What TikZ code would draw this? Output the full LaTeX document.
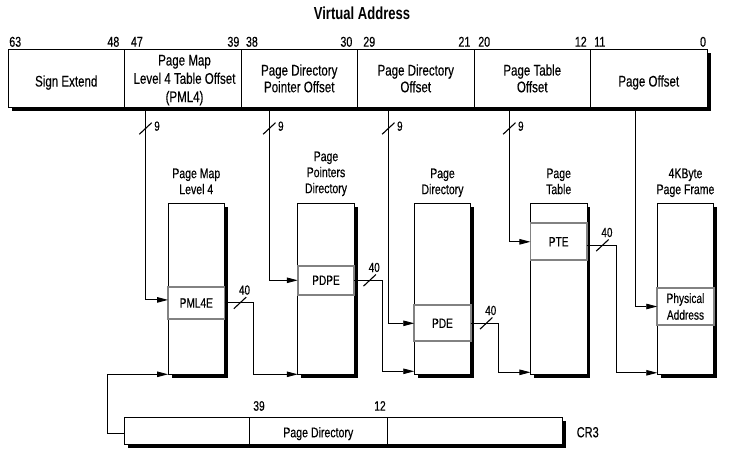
\documentclass[tikz,border=0pt]{standalone}
\usepackage{fontspec}
\setmainfont{Liberation Sans}[FakeStretch=0.75,UprightFeatures={FakeBold=0.35}]
\usetikzlibrary{arrows.meta,shadows}
\definecolor{entrygray}{RGB}{130,130,130}
\newcommand\fsz[2]{\fontsize{#1}{#2}\selectfont}
\begin{document}
\begin{tikzpicture}[x=1pt,y=-1pt,
  every node/.style={inner sep=0pt,outer sep=0pt},
  shadowbox/.style={draw=black,line width=0.9pt,fill=white,
     drop shadow={shadow xshift=3.5pt,shadow yshift=-3.5pt,fill=black,opacity=1}},
  field/.style={shadowbox,minimum width=116.5pt,minimum height=57.5pt},
  tablebox/.style={shadowbox,minimum width=56.5pt,minimum height=171pt},
  entry/.style={draw=entrygray,line width=1.8pt,fill=white,minimum width=56.5pt,align=center,font=\fsz{13.5}{16.7}},
  ftext/.style={align=center,anchor=north,font=\fsz{15.4}{16.7}},
  ttext/.style={align=center,anchor=north,font=\fsz{14}{16}},
  bitnum/.style={font=\fsz{14.2}{15}},
  widthlabel/.style={font=\fsz{13.2}{14},anchor=base west},
  conn/.style={line width=0.9pt},
  arr/.style={conn,-{Triangle[length=11pt,width=5.5pt]}},
  slashmark/.style={line width=1.1pt},
]
\useasboundingbox (0,0) rectangle (756,466);
\fill[white] (0,0) rectangle (756,466);

% title
\node[font=\bfseries\fsz{17.4}{18}] (title) at (362,13) {Virtual Address};

% virtual address fields
\node[field] (f1) at (66.25,78.25) {};
\node[field] (f2) at (182.75,78.25) {};
\node[field] (f3) at (299.25,78.25) {};
\node[field] (f4) at (415.75,78.25) {};
\node[field] (f5) at (532.25,78.25) {};
\node[field] (f6) at (648.75,78.25) {};

\node[ftext] (t1) at (66.25,75.4) {Sign Extend};
\node[ftext,font=\fsz{15.4}{18.3}] (t2) at (184.5,54.9) {Page Map\\Level 4 Table Offset\\(PML4)};
\node[ftext] (t3) at (299.25,64.4) {Page Directory\\Pointer Offset};
\node[ftext] (t4) at (415.75,64.4) {Page Directory\\Offset};
\node[ftext] (t5) at (532.25,64.4) {Page Table\\Offset};
\node[ftext] (t6) at (648.75,75.4) {Page Offset};

% bit numbers
\node[bitnum,anchor=base west] (b63) at (9.3,46.7) {63};
\node[bitnum,anchor=base east] (b48) at (119.3,46.7) {48};
\node[bitnum,anchor=base west] (b47) at (131,46.7) {47};
\node[bitnum,anchor=base east] (b39) at (239.3,46.7) {39};
\node[bitnum,anchor=base west] (b38) at (246,46.7) {38};
\node[bitnum,anchor=base east] (b30) at (352.3,46.7) {30};
\node[bitnum,anchor=base west] (b29) at (363.3,46.7) {29};
\node[bitnum,anchor=base east] (b21) at (470.3,46.7) {21};
\node[bitnum,anchor=base west] (b20) at (478.3,46.7) {20};
\node[bitnum,anchor=base east] (b12) at (586.7,46.7) {12};
\node[bitnum,anchor=base west] (b11) at (594.3,46.7) {11};
\node[bitnum,anchor=base east] (b0) at (706,46.7) {0};

% tables
\node[tablebox] (pml4) at (196.3,288.8) {};
\node[tablebox] (pdp) at (326,288.8) {};
\node[tablebox] (pd) at (442.5,288.8) {};
\node[tablebox] (pt) at (558.7,288.8) {};
\node[tablebox] (frame) at (685.5,288.8) {};

\node[entry,minimum height=32.3pt] (pml4e) at (196.3,302.9) {PML4E};
\node[entry,minimum height=29.3pt] (pdpe) at (326,280.3) {PDPE};
\node[entry,minimum height=36pt] (pde) at (442.5,323.3) {PDE};
\node[entry,minimum height=37pt] (pte) at (558.7,241.8) {PTE};
\node[entry,minimum height=36.4pt] (phys) at (685.5,306.5) {Physical\\Address};

\node[ttext] (h1) at (196.3,168.5) {Page Map\\Level 4};
\node[ttext] (h2) at (326,151.5) {Page\\Pointers\\Directory};
\node[ttext] (h3) at (442.5,168.5) {Page\\Directory};
\node[ttext] (h4) at (558.7,168.5) {Page\\Table};
\node[ttext] (h5) at (685.5,168.5) {4KByte\\Page Frame};

% CR3
\node[shadowbox,minimum width=125pt,minimum height=27.3pt] (c1) at (186.8,430.65) {};
\node[shadowbox,minimum width=138pt,minimum height=27.3pt] (c2) at (318.3,430.65) {};
\node[shadowbox,minimum width=175.4pt,minimum height=27.3pt] (c3) at (475,430.65) {};
\node[font=\fsz{14.1}{15},anchor=base] (cr3txt) at (318.3,437.3) {Page Directory};
\node[font=\fsz{14.7}{16},anchor=base west] (cr3) at (576.7,437.3) {CR3};
\node[bitnum,font=\fsz{13.7}{15},anchor=base west] (cb39) at (253.3,410.7) {39};
\node[bitnum,font=\fsz{13.7}{15},anchor=base east] (cb12) at (385.7,410.7) {12};

% index lines from virtual address
\coordinate (s1) at (145.5,107);
\coordinate (s2) at (269.3,107);
\coordinate (s3) at (388.3,107);
\coordinate (s4) at (509.3,107);
\coordinate (s5) at (635.3,107);

\draw[arr] (s1) |- ([yshift=3pt]pml4e.west);
\draw[arr] (s2) |- (pdpe.west);
\draw[arr] (s3) |- (pde.west);
\draw[arr] (s4) |- (pte.west);
\draw[arr] (s5) |- (phys.west);

\draw[slashmark] (s1) ++(-6.2,27.3) -- ++(12.4,-11.6);
\draw[slashmark] (s2) ++(-6.2,27.3) -- ++(12.4,-11.6);
\draw[slashmark] (s3) ++(-6.2,27.3) -- ++(12.4,-11.6);
\draw[slashmark] (s4) ++(-6.2,27.3) -- ++(12.4,-11.6);
\node[widthlabel] (n9a) at ([xshift=8.8pt,yshift=-23.7pt]s1) {9};
\node[widthlabel] (n9b) at ([xshift=8.8pt,yshift=-23.7pt]s2) {9};
\node[widthlabel] (n9c) at ([xshift=8.8pt,yshift=-23.7pt]s3) {9};
\node[widthlabel] (n9d) at ([xshift=8.8pt,yshift=-23.7pt]s4) {9};

% base address links
\draw[arr] (pml4e.east) -- ++(29,0) |- (pdp.south west);
\draw[arr] (pdpe.east) -- ++(28.2,0) |- ([yshift=3pt]pd.south west);
\draw[arr] (pde.east) -- ++(27.4,0) |- ([yshift=2pt]pt.south west);
\draw[arr] ([yshift=-3.5pt]pte.east) -- ++(29.3,0) |- ([yshift=1.5pt]frame.south west);
\draw[arr] ([yshift=-2.6pt]c1.west) -- ++(-17,0) |- (pml4.south west);

\draw[slashmark] (pml4e.east) ++(9.3,5.8) -- ++(12.4,-11.6);
\draw[slashmark] (pdpe.east) ++(9.3,5.8) -- ++(12.4,-11.6);
\draw[slashmark] (pde.east) ++(9.3,5.8) -- ++(12.4,-11.6);
\draw[slashmark] ([yshift=-3.5pt]pte.east) ++(9.3,5.8) -- ++(12.4,-11.6);
\node[widthlabel] (n40a) at ([xshift=14.5pt,yshift=8.3pt]pml4e.east) {40};
\node[widthlabel] (n40b) at ([xshift=14.5pt,yshift=8.3pt]pdpe.east) {40};
\node[widthlabel] (n40c) at ([xshift=14.5pt,yshift=8.3pt]pde.east) {40};
\node[widthlabel] (n40d) at ([xshift=14.5pt,yshift=4.8pt]pte.east) {40};
\end{tikzpicture}
\end{document}
